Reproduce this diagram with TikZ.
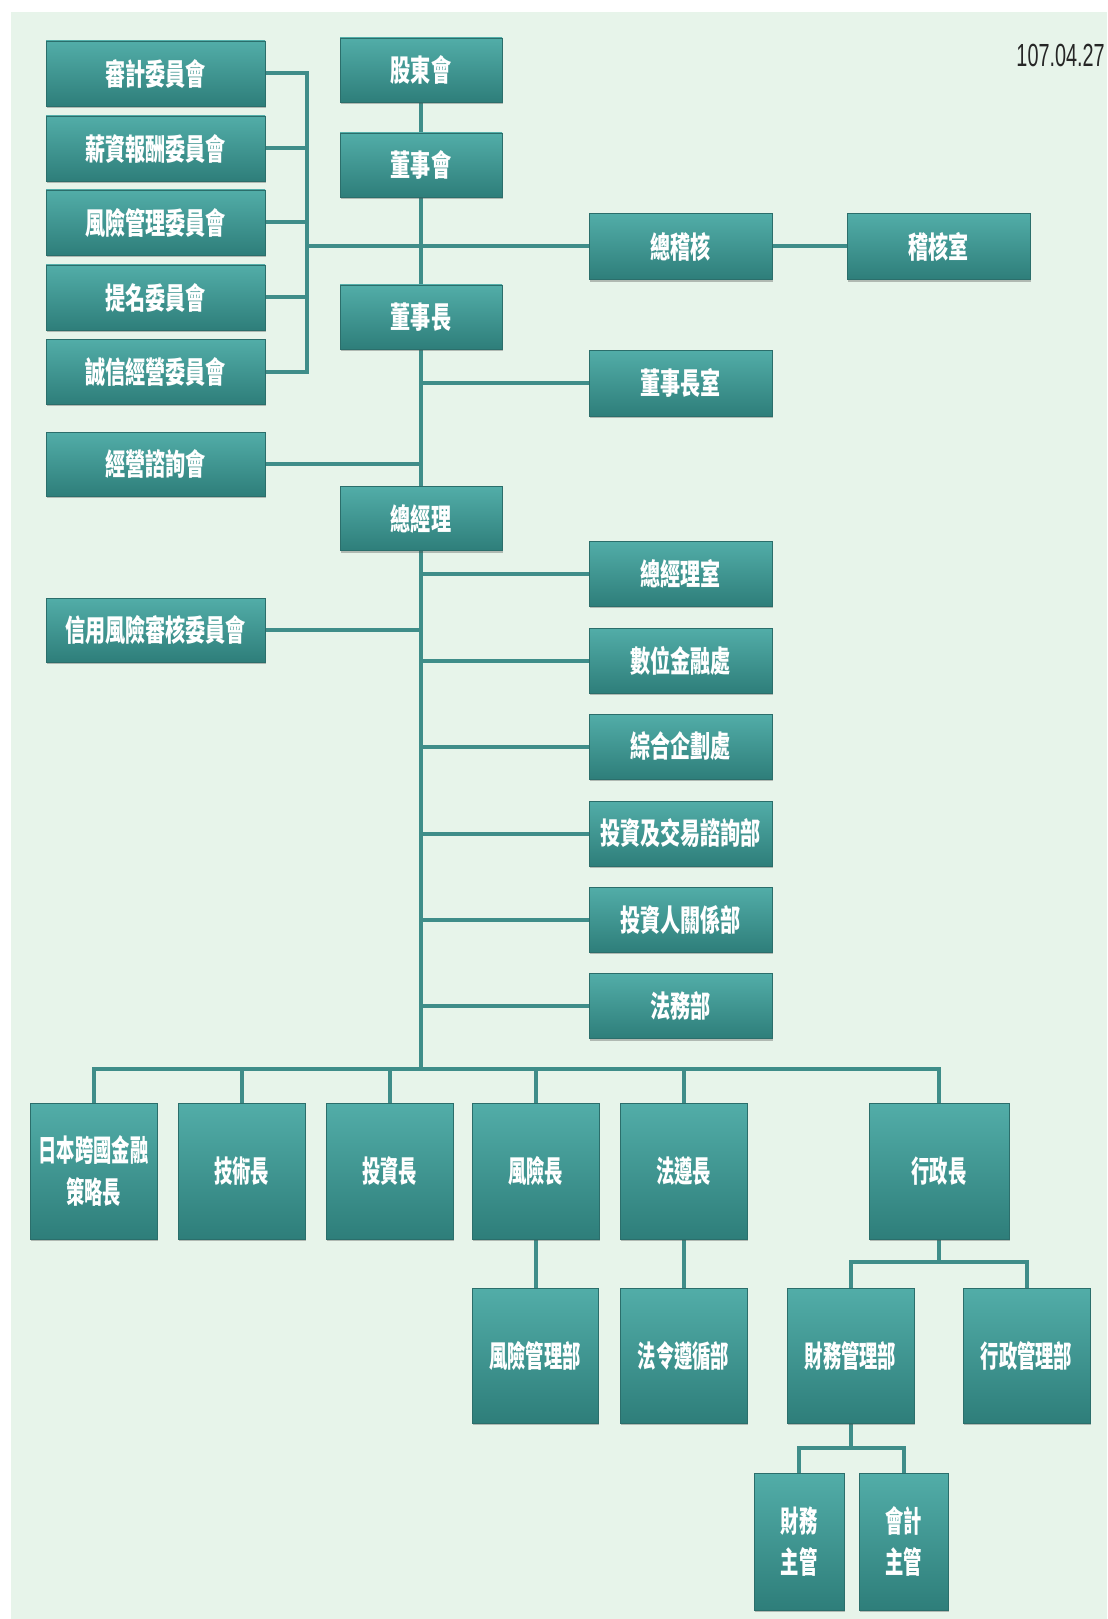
\documentclass[tikz,border=0pt]{standalone}
\usepackage{fontspec}
\setmainfont{Liberation Sans}
\newfontfamily\cjkA[FakeStretch=0.67]{Noto Sans CJK TC}
\newfontfamily\cjkB[FakeStretch=0.61]{Noto Sans CJK TC}
\newfontfamily\datefont[FakeStretch=0.62]{Liberation Sans}
\usetikzlibrary{shadows}
\pgfdeclarelayer{bgl}
\pgfdeclarelayer{lines}
\pgfsetlayers{bgl,lines,main}
\definecolor{bgc}{HTML}{E7F4EA}
\definecolor{boxtop}{HTML}{52ADA8}
\definecolor{boxbot}{HTML}{2E7E7A}
\definecolor{boxline}{HTML}{2B6E6B}
\definecolor{conn}{HTML}{3F8D89}
\begin{document}
\begin{tikzpicture}[x=0.75pt,y=-0.75pt,
  ob/.style={draw=boxline, line width=0.6pt, top color=boxtop, bottom color=boxbot,
    text=white, inner sep=0pt, align=center,
    drop shadow={shadow xshift=1pt, shadow yshift=-1.6pt, opacity=0.35, fill=black!70}},
  sz/.style 2 args={minimum width=#1*0.75pt, minimum height=#2*0.75pt},
  fa/.style={font=\cjkA\bfseries\fontsize{22.5pt}{30pt}\selectfont},
  fb/.style={font=\cjkB\bfseries\fontsize{22.5pt}{31pt}\selectfont},
  con/.style={draw=conn, line width=3pt}]
\useasboundingbox (0,0) rectangle (1107,1619);
\begin{pgfonlayer}{bgl}
\fill[white] (0,0) rectangle (1107,1619);
\fill[bgc] (11,12) rectangle (1107,1619);
\end{pgfonlayer}

% junction coordinates
\coordinate (bk) at (307,246.5);
\coordinate (bus) at (421,1069);
\coordinate (j1) at (939,1262);
\coordinate (j2) at (850.5,1448);

% ---------- nodes ----------
% left column
\node[ob,sz={219}{65},fa] (c1) at (155.5,73.5) {審計委員會};
\node[ob,sz={219}{65},fa] (c2) at (155.5,148.5) {薪資報酬委員會};
\node[ob,sz={219}{65},fa] (c3) at (155.5,222.5) {風險管理委員會};
\node[ob,sz={219}{65},fa] (c4) at (155.5,297.5) {提名委員會};
\node[ob,sz={219}{65},fa] (c5) at (155.5,371.5) {誠信經營委員會};
\node[ob,sz={219}{64},fa] (adv) at (155.5,464) {經營諮詢會};
\node[ob,sz={219}{64},fa] (crc) at (155.5,630) {信用風險審核委員會};
% centre column
\node[ob,sz={162}{64},fa] (sh) at (421,70) {股東會};
\node[ob,sz={162}{64},fa] (bd) at (421,165) {董事會};
\node[ob,sz={162}{64},fa] (ch) at (421,317) {董事長};
\node[ob,sz={162}{64},fa] (gm) at (421,518.5) {總經理};
% right column
\node[ob,sz={183}{66},fa] (aud) at (680.5,246.5) {總稽核};
\node[ob,sz={183}{66},fa] (audr) at (938.5,246.5) {稽核室};
\node[ob,sz={183}{66},fa] (cho) at (680.5,383) {董事長室};
\node[ob,sz={183}{65},fa] (r1) at (680.5,573.5) {總經理室};
\node[ob,sz={183}{65},fa] (r2) at (680.5,660.5) {數位金融處};
\node[ob,sz={183}{65},fa] (r3) at (680.5,746.5) {綜合企劃處};
\node[ob,sz={183}{65},fa] (r4) at (680.5,833.5) {投資及交易諮詢部};
\node[ob,sz={183}{65},fa] (r5) at (680.5,919.5) {投資人關係部};
\node[ob,sz={183}{65},fa] (r6) at (680.5,1006) {法務部};
% bottom row 1
\node[ob,sz={127}{136},fb] (b1) at (93.5,1171) {日本跨國金融\\策略長};
\node[ob,sz={127}{136},fb] (b2) at (241.5,1171) {技術長};
\node[ob,sz={127}{136},fb] (b3) at (389.5,1171) {投資長};
\node[ob,sz={127}{136},fb] (b4) at (535.5,1171) {風險長};
\node[ob,sz={127}{136},fb] (b5) at (683.5,1171) {法遵長};
\node[ob,sz={140}{136},fb] (b6) at (939,1171) {行政長};
% bottom row 2
\node[ob,sz={126}{135},fb] (d1) at (535,1355.5) {風險管理部};
\node[ob,sz={127}{135},fb] (d2) at (683.5,1355.5) {法令遵循部};
\node[ob,sz={127}{135},fb] (d3) at (850.5,1355.5) {財務管理部};
\node[ob,sz={127}{135},fb] (d4) at (1026.5,1355.5) {行政管理部};
% bottom row 3
\node[ob,sz={90}{137},fb] (e1) at (799,1541.5) {財務\\主管};
\node[ob,sz={89}{137},fb] (e2) at (903.5,1541.5) {會計\\主管};
% date
\node[font=\datefont\fontsize{24pt}{28pt}\selectfont, text=black!85, anchor=east, inner sep=0pt] (date) at (1105,55) {107.04.27};

% ---------- connectors (behind boxes) ----------
\begin{pgfonlayer}{lines}
% trunk
\draw[con] (sh.south) -- (bd.north);
\draw[con] (bd.south) -- (ch.north);
\draw[con] (ch.south) -- (gm.north);
\draw[con] (gm.south) -- (bus);
% committee bracket
\draw[con] (c1.east) -- (c1.east -| bk) -- (c5.east -| bk) -- (c5.east);
\draw[con] (c2.east) -- (c2.east -| bk);
\draw[con] (c3.east) -- (c3.east -| bk);
\draw[con] (c4.east) -- (c4.east -| bk);
\draw[con] (bk) -- (aud.west);
\draw[con] (aud.east) -- (audr.west);
% chairman office, advisory
\draw[con] (ch.south |- cho.west) -- (cho.west);
\draw[con] (adv.east) -- (adv.east -| bus);
% GM units
\draw[con] (r1.west -| bus) -- (r1.west);
\draw[con] (r2.west -| bus) -- (r2.west);
\draw[con] (r3.west -| bus) -- (r3.west);
\draw[con] (r4.west -| bus) -- (r4.west);
\draw[con] (r5.west -| bus) -- (r5.west);
\draw[con] (r6.west -| bus) -- (r6.west);
\draw[con] (crc.east) -- (crc.east -| bus);
% bottom bus
\draw[con] (b1.north) -- (b1.north |- bus) -- (b6.north |- bus) -- (b6.north);
\draw[con] (b2.north) -- (b2.north |- bus);
\draw[con] (b3.north) -- (b3.north |- bus);
\draw[con] (b4.north) -- (b4.north |- bus);
\draw[con] (b5.north) -- (b5.north |- bus);
% risk / compliance
\draw[con] (b4.south) -- (d1.north -| b4.south);
\draw[con] (b5.south) -- (d2.north);
% admin
\draw[con] (b6.south) -- (j1);
\draw[con] (d3.north) -- (d3.north |- j1) -- (d4.north |- j1) -- (d4.north);
% finance
\draw[con] (d3.south) -- (j2);
\draw[con] (e1.north) -- (e1.north |- j2) -- (e2.north |- j2) -- (e2.north);
\end{pgfonlayer}
\end{tikzpicture}
\end{document}
